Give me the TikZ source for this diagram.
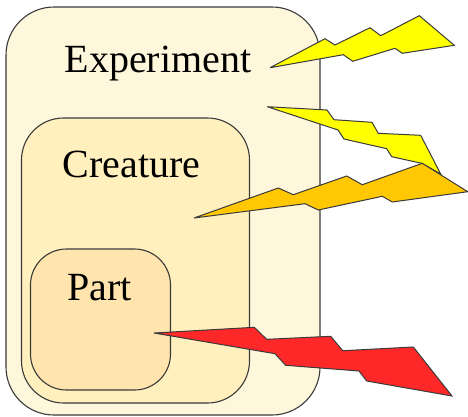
\documentclass[tikz,border=0pt]{standalone}
\usepackage{fontspec}
\setmainfont{Liberation Serif}
\definecolor{ExperimentFill}{HTML}{FFF7DC}
\definecolor{CreatureFill}{HTML}{FFF0BE}
\definecolor{PartFill}{HTML}{FFE5AD}
\definecolor{EdgeGray}{HTML}{3A3A3A}
\definecolor{BoltYellow}{HTML}{FFFF00}
\definecolor{BoltOrange}{HTML}{FFC800}
\definecolor{BoltRed}{HTML}{FF2828}
\tikzset{
  levelbox/.style={draw=EdgeGray, line width=1.1pt, inner sep=0pt, outer sep=0pt, anchor=north west},
  levellabel/.style={anchor=base, inner sep=0pt, font=\fontsize{40}{40}\selectfont},
  bolt/.style={draw=EdgeGray, line width=1pt, line join=miter, miter limit=4}
}
\begin{document}
\begin{tikzpicture}[x=1pt, y=-1pt]
  \useasboundingbox (0,0) rectangle (468,416);
  % nested boxes
  \node[levelbox, fill=ExperimentFill, rounded corners=48pt, minimum width=314pt, minimum height=408pt] (experiment) at (6,7) {};
  \node[levelbox, fill=CreatureFill, rounded corners=42pt, minimum width=228pt, minimum height=285pt] (creature) at (21.5,118) {};
  \node[levelbox, fill=PartFill, rounded corners=36pt, minimum width=140pt, minimum height=141pt] (part) at (30.5,249) {};
  \node[levellabel] (experimentlabel) at (158,72) {Experiment};
  \node[levellabel] (creaturelabel) at (131.5,177) {Creature};
  \node[levellabel] (partlabel) at (99.5,300) {Part};
  % bolts
  \draw[bolt, fill=BoltYellow] (270,67.7) -- (325,38.7) -- (335,45) -- (370,27.7) -- (380.7,35.7) -- (419.3,15.7)
    -- (454.3,45.3) -- (402.3,53.3) -- (395,48.3) -- (352.7,61.3) -- (343.3,54.7) -- cycle;
  \draw[bolt, fill=BoltYellow] (267.3,106.7) -- (327,110) -- (334,119.7) -- (372,122.3) -- (378.3,133.3) -- (420.7,135.3)
    -- (440.7,174) -- (421.7,163.3) -- (391.7,156.7) -- (386.7,148.7) -- (344,139) -- (338,130) -- cycle;
  \draw[bolt, fill=BoltOrange] (194,218) -- (278.3,188) -- (293.3,194.7) -- (346.7,176) -- (362.3,184.7) -- (422.3,163.3)
    -- (467.7,191.7) -- (392.3,202) -- (382.3,196.3) -- (318.3,210) -- (305,203.7) -- cycle;
  \draw[bolt, fill=BoltRed] (154,333) -- (254.3,327.3) -- (266.7,339.3) -- (330.7,336.3) -- (342.7,350.7) -- (413.3,347)
    -- (452,396) -- (366.7,381) -- (359,371) -- (285.7,365.3) -- (275,353.7) -- cycle;
\end{tikzpicture}
\end{document}
